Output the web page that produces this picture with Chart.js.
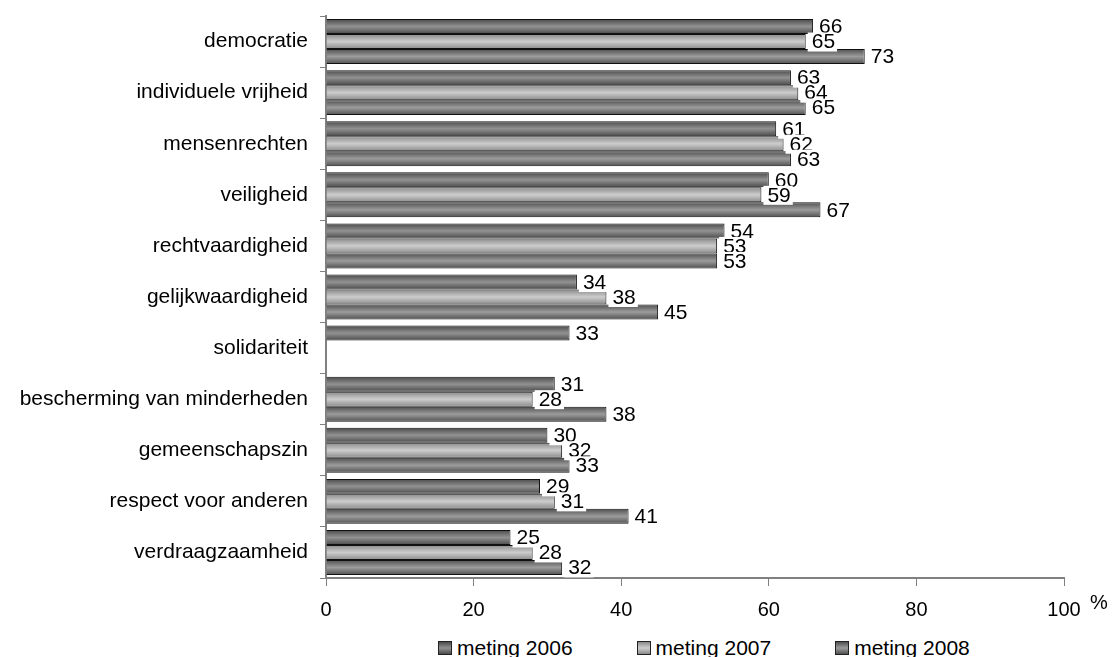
<!DOCTYPE html>
<html>
<head>
<meta charset="utf-8">
<script src="https://cdn.jsdelivr.net/npm/chart.js@4.4.0/dist/chart.umd.min.js"></script>
<style>
  html, body { margin: 0; padding: 0; background: #fff; overflow: hidden; }
  #wrap { position: relative; width: 1117px; height: 657px; }
  #legend {
    position: absolute; left: 438px; top: 636px;
    display: flex; gap: 64px;
    font: 21px "Liberation Sans", Arial, sans-serif; line-height: 24px; color: #000;
  }
  #legend .item { display: flex; align-items: center; white-space: nowrap; }
  #legend .box { width: 12px; height: 12px; border: 1px solid #222; margin-right: 5px; }
</style>
</head>
<body>
<div id="wrap">
  <canvas id="chart" width="1117" height="630"></canvas>
  <div id="legend"></div>
</div>
<script>
const categories = [
  'democratie',
  'individuele vrijheid',
  'mensenrechten',
  'veiligheid',
  'rechtvaardigheid',
  'gelijkwaardigheid',
  'solidariteit',
  'bescherming van minderheden',
  'gemeenschapszin',
  'respect voor anderen',
  'verdraagzaamheid'
]
const seriesNames = ['meting 2006', 'meting 2007', 'meting 2008']
const values2006 = [66, 63, 61, 60, 54, 34, 33, 31, 30, 29, 25]
const values2007 = [65, 64, 62, 59, 53, 38, null, 28, 32, 31, 28]
const values2008 = [73, 65, 63, 67, 53, 45, null, 38, 33, 41, 32]
const xTicks = [0, 20, 40, 60, 80, 100]

// edge / centre shade of each series' gradient
const shades = [
  ['#4a4a4a', '#929292'],
  ['#8a8a8a', '#cdcdcd'],
  ['#505050', '#9c9c9c']
]

const FONT = '"Liberation Sans", Arial, sans-serif'
Chart.defaults.font.family = FONT
Chart.defaults.color = '#000'

// vertical gradient on each bar, like the old Excel look
const barGradient = {
  id: 'barGradient',
  beforeDatasetsDraw(chart) {
    const ctx = chart.ctx
    chart.data.datasets.forEach((ds, i) => {
      chart.getDatasetMeta(i).data.forEach(el => {
        const { y, height } = el.getProps(['y', 'height'], true)
        const g = ctx.createLinearGradient(0, y - height / 2, 0, y + height / 2)
        g.addColorStop(0, shades[i][0])
        g.addColorStop(0.5, shades[i][1])
        g.addColorStop(1, shades[i][0])
        el.options.backgroundColor = g
      })
    })
  }
}

// value labels with white fill at the end of each bar
const valueLabels = {
  id: 'valueLabels',
  afterDatasetsDraw(chart) {
    const ctx = chart.ctx
    ctx.save()
    ctx.font = '21px ' + FONT
    ctx.textBaseline = 'middle'
    chart.data.datasets.forEach((ds, i) => {
      chart.getDatasetMeta(i).data.forEach((el, j) => {
        const v = ds.data[j]
        if (v === null || v === undefined) return
        const txt = String(v)
        const w = ctx.measureText(txt).width
        const x = el.x + 2
        ctx.fillStyle = '#fff'
        ctx.fillRect(x, el.y - 9, w + 6, 19)
        ctx.fillStyle = '#000'
        ctx.fillText(txt, x + 4, el.y + 1)
      })
    })
    ctx.restore()
  }
}

// the "%" unit next to the last x tick
const unitLabel = {
  id: 'unitLabel',
  afterDraw(chart) {
    const ctx = chart.ctx
    const sx = chart.scales.x
    ctx.save()
    ctx.font = '20px ' + FONT
    ctx.fillStyle = '#000'
    ctx.textBaseline = 'middle'
    ctx.fillText('%', sx.getPixelForValue(100) + 26, sx.top + 25)
    ctx.restore()
  }
}

const series = [values2006, values2007, values2008]

new Chart(document.getElementById('chart'), {
  type: 'bar',
  data: {
    labels: categories,
    datasets: series.map((vals, i) => ({
      label: seriesNames[i],
      data: vals,
      backgroundColor: () => shades[i][1],
      borderColor: '#111',
      borderWidth: 1,
      categoryPercentage: 0.88,
      barPercentage: 1
    }))
  },
  options: {
    indexAxis: 'y',
    responsive: false,
    animation: false,
    events: [],
    layout: { padding: { top: 16, right: 53, left: 0, bottom: 0 } },
    plugins: {
      legend: { display: false },
      tooltip: { enabled: false }
    },
    scales: {
      x: {
        min: 0,
        max: 100,
        afterBuildTicks: axis => { axis.ticks = xTicks.map(v => ({ value: v })) },
        afterFit: scale => {
          scale.height = 52
          scale.paddingLeft = 0
          scale.paddingRight = 0
        },
        grid: { drawOnChartArea: false, tickLength: 8, color: '#808080' },
        border: { color: '#808080', width: 2 },
        ticks: { font: { size: 20 }, padding: 12, maxRotation: 0 }
      },
      y: {
        afterFit: scale => {
          scale.width = 326
          scale.paddingTop = 0
          scale.paddingBottom = 0
        },
        grid: { drawOnChartArea: false, tickLength: 6, color: '#808080', offset: true },
        border: { color: '#808080', width: 2 },
        ticks: { font: { size: 21 }, padding: 12, autoSkip: false }
      }
    }
  },
  plugins: [barGradient, valueLabels, unitLabel]
})

// html legend
const legend = document.getElementById('legend')
seriesNames.forEach((name, i) => {
  const item = document.createElement('div')
  item.className = 'item'
  const box = document.createElement('span')
  box.className = 'box'
  box.style.background = `linear-gradient(${shades[i][0]}, ${shades[i][1]}, ${shades[i][0]})`
  item.appendChild(box)
  item.appendChild(document.createTextNode(name))
  legend.appendChild(item)
})
</script>
</body>
</html>
